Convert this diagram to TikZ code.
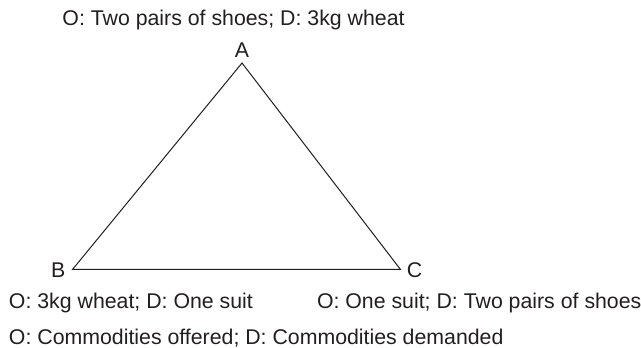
\documentclass[tikz,border=0pt]{standalone}
\usepackage{fontspec}
\setmainfont{Liberation Sans}
\usepackage{tikz}

\begin{document}
\begin{tikzpicture}[x=1pt,y=1pt]
\definecolor{drawColor}{RGB}{35,31,32}
\definecolor{fillColor}{RGB}{255,255,255}
\tikzset{lbl/.style={text=drawColor,inner sep=0pt, outer sep=0pt, font=\fontsize{21.3}{24}\selectfont}}
\path[use as bounding box,fill=fillColor] (0,0) rectangle (641,348);

\coordinate (vA) at (242.00,285.00);
\coordinate (vB) at ( 72.50, 78.50);
\coordinate (vC) at (400.50, 78.50);

\path[draw=drawColor,line width= 1.0pt,line join=miter] (vA) --
	(vB) --
	(vC) --
	cycle;

\node[lbl,anchor=base] (labA) at (242.00,290.30) {A};
\node[lbl,anchor=base] (labB) at ( 58.30, 70.00) {B};
\node[lbl,anchor=base] (labC) at (414.50, 70.50) {C};

\node[lbl,anchor=base] (txtA) at (233.50,322.50) {O: Two pairs of shoes; D: 3kg wheat};
\node[lbl,anchor=base west] (txtB) at (  9.00, 39.50) {O: 3kg wheat; D: One suit};
\node[lbl,anchor=base west] (txtC) at (317.00, 39.50) {O: One suit; D: Two pairs of shoes};
\node[lbl,anchor=base west] (key) at (  9.00,  3.50) {O: Commodities offered; D: Commodities demanded};
\end{tikzpicture}
\end{document}
